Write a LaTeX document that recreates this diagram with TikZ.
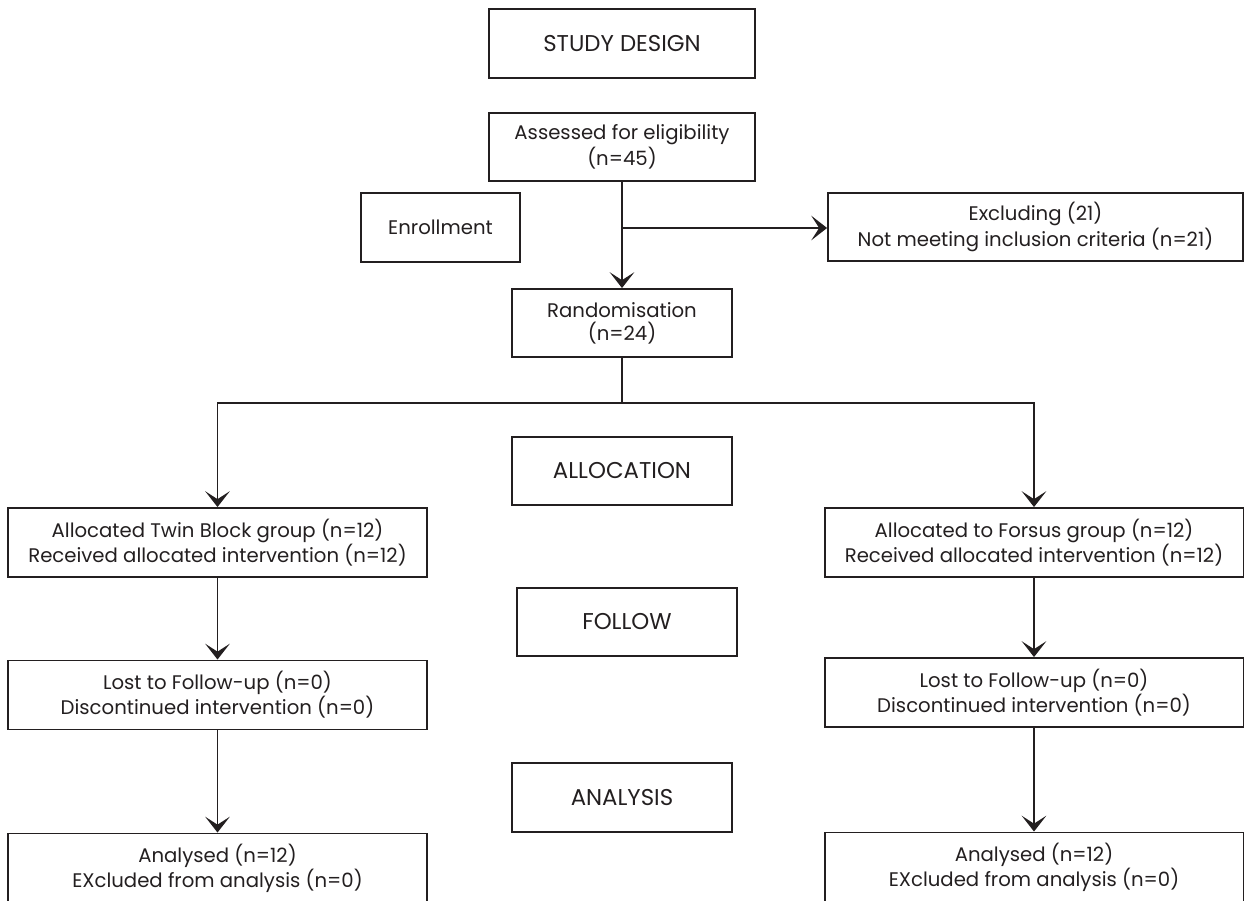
\documentclass[tikz,border=0pt]{standalone}
\usepackage{fontspec}
\setmainfont{Poppins}
\usetikzlibrary{arrows.meta}
\definecolor{ink}{HTML}{231F20}
\begin{document}
\begin{tikzpicture}[x=0.02cm,y=-0.02cm,
	box/.style={draw=ink,line width=1.1pt,align=center,inner sep=0pt,text=ink,
		font=\fontsize{11.2}{13}\selectfont},
	stage/.style={box,minimum width=4.4cm,minimum height=1.37cm,font=\fontsize{13}{15}\selectfont},
	grp/.style={box,minimum width=8.38cm,minimum height=1.38cm},
	arr/.style={-{Stealth[length=9pt,width=14pt,inset=4.5pt]},line width=0.9pt,draw=ink},
	link/.style={line width=0.9pt,draw=ink}]
		\clip (0,0) rectangle (1244,900);
		% enrollment part
		\node[stage,minimum width=5.32cm] (design) at (622,43.5) {STUDY DESIGN};
		\node[box,minimum width=5.32cm,minimum height=1.36cm] (assess) at (622,147) {Assessed for eligibility\\(n=45)};
		\node[box,minimum width=3.18cm,minimum height=1.38cm] (enrol) at (440.5,227.5) {Enrollment};
		\node[box,minimum width=8.3cm,minimum height=1.36cm] (excl) at (1035.5,227) {Excluding (21)\\Not meeting inclusion criteria (n=21)};
		\node[box,minimum width=4.4cm,minimum height=1.36cm] (rand) at (622,323) {Randomisation\\(n=24)};
		% stages
		\node[stage] (alloc) at (622,471) {ALLOCATION};
		\node[stage] (follow) at (627,622) {FOLLOW};
		\node[stage] (analysis) at (622,797.5) {ANALYSIS};
		% the two groups
		\node[grp] (tb1) at (217.5,542.5) {Allocated Twin Block group (n=12)\\Received allocated intervention (n=12)};
		\node[grp] (tb2) at (217.5,695) {Lost to Follow-up (n=0)\\Discontinued intervention (n=0)};
		\node[grp] (tb3) at (217.5,868) {Analysed (n=12)\\EXcluded from analysis (n=0)};
		\node[grp] (fo1) at (1034,542.5) {Allocated to Forsus group (n=12)\\Received allocated intervention (n=12)};
		\node[grp] (fo2) at (1034,692.5) {Lost to Follow-up (n=0)\\Discontinued intervention (n=0)};
		\node[grp] (fo3) at (1034,867) {Analysed (n=12)\\EXcluded from analysis (n=0)};
		\coordinate (branch) at (622,228);
		\coordinate (split) at (622,403);
		\draw[arr] (assess) -- (rand);
		\draw[arr] (branch) -- (branch -| excl.west);
		\draw[link] (rand) -- (split);
		\draw[arr] (split) -| (tb1);
		\draw[arr] (split) -| (fo1);
		\draw[arr] (tb1) -- (tb2);
		\draw[arr] (tb2) -- (tb3);
		\draw[arr] (fo1) -- (fo2);
		\draw[arr] (fo2) -- (fo3);
	\end{tikzpicture}
\end{document}
